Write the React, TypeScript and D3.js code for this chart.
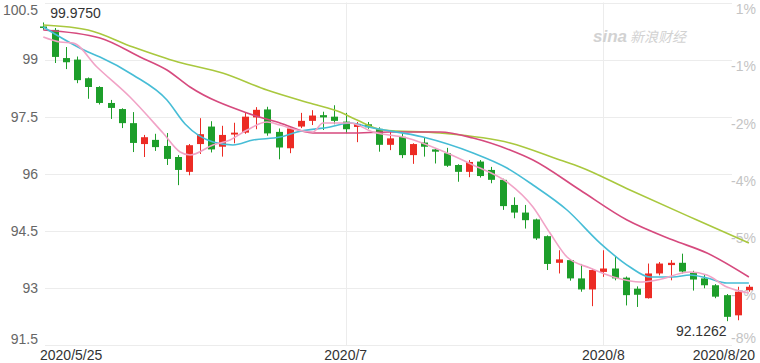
import React from "react";
import * as d3 from "d3";

// ---- Data ----
const opens = [99.87, 99.78, 99.04, 99.0, 98.51, 98.28, 97.86, 97.7, 97.33, 96.78, 96.89, 96.73, 96.44, 96.05, 96.78, 97.24, 96.71, 97.03, 97.08, 97.48, 97.69, 97.1, 96.67, 97.24, 97.39, 97.54, 97.5, 97.37, 97.23, 97.3, 97.18, 96.76, 96.97, 96.49, 96.82, 96.64, 96.54, 96.23, 96.05, 96.32, 96.1, 95.84, 95.18, 94.98, 94.8, 94.36, 93.66, 93.73, 93.25, 92.96, 93.42, 93.51, 93.27, 92.98, 92.73, 93.38, 93.6, 93.66, 93.4, 93.25, 93.07, 92.81, 92.28, 92.94];
const highs = [99.975, 99.83, 99.33, 99.08, 98.53, 98.3, 97.94, 97.72, 97.62, 97.02, 97.05, 97.07, 96.49, 96.78, 97.46, 97.38, 97.26, 97.34, 97.6, 97.75, 97.76, 97.19, 97.24, 97.6, 97.67, 97.63, 97.8, 97.6, 97.36, 97.36, 97.22, 97.1, 97.06, 96.8, 96.96, 96.67, 96.68, 96.25, 96.36, 96.36, 96.18, 95.87, 95.38, 95.18, 94.82, 94.38, 93.99, 93.76, 93.63, 93.5, 93.99, 93.82, 93.3, 93.04, 93.64, 93.68, 93.73, 93.9, 93.45, 93.34, 93.1, 92.84, 93.03, 93.08];
const lows = [99.78, 98.91, 98.75, 98.38, 97.97, 97.82, 97.44, 97.2, 96.57, 96.44, 96.6, 96.23, 95.7, 95.96, 96.52, 96.56, 96.45, 96.8, 97.05, 97.17, 97.0, 96.38, 96.54, 97.2, 97.28, 97.15, 97.3, 97.06, 96.83, 97.18, 96.58, 96.62, 96.41, 96.26, 96.45, 96.27, 96.18, 95.79, 95.91, 95.9, 95.75, 95.05, 94.83, 94.56, 94.26, 93.47, 93.38, 93.19, 92.9, 92.52, 93.29, 93.2, 92.54, 92.5, 92.72, 93.33, 93.2, 93.38, 92.93, 92.99, 92.73, 92.1262, 92.15, 92.9];
const closes = [99.86, 99.07, 98.93, 98.46, 98.28, 97.86, 97.73, 97.33, 96.81, 96.96, 96.7, 96.39, 96.1, 96.75, 97.04, 96.64, 97.02, 97.08, 97.5, 97.68, 97.06, 96.69, 97.19, 97.39, 97.53, 97.48, 97.39, 97.17, 97.31, 97.22, 96.76, 96.93, 96.49, 96.78, 96.71, 96.58, 96.21, 96.05, 96.31, 95.94, 95.84, 95.15, 94.98, 94.78, 94.3, 93.63, 93.75, 93.25, 92.96, 93.47, 93.51, 93.25, 92.81, 92.82, 93.38, 93.64, 93.66, 93.43, 93.22, 93.07, 92.77, 92.24, 92.9, 93.03];

// moving averages, sampled [candle index, value]
const ma5: [number, number][] = [[0, 99.593], [1.49, 99.462], [2.65, 99.436], [4.79, 98.805], [7.74, 98.016], [10.69, 97.07], [12.21, 96.571], [13.1, 96.492], [15.15, 96.755], [16.67, 96.886], [18.19, 97.149], [19.97, 97.359], [21.13, 97.281], [22.65, 97.149], [24.08, 97.097], [24.97, 97.333], [27.38, 97.333], [29.44, 97.097], [32.47, 96.939], [35.42, 96.624], [38.37, 96.23], [41.4, 95.783], [43.72, 95.126], [45.24, 94.442], [46.76, 93.812], [48.81, 93.523], [51.22, 93.26], [53.28, 93.155], [54.79, 93.207], [57.74, 93.418], [59.26, 93.339], [61.04, 93.024], [63, 92.866]];
const ma10: [number, number][] = [[0, 99.856], [4, 99.199], [5.06, 99.068], [8.01, 98.595], [11.04, 97.938], [12.66, 97.307], [15.15, 96.834], [16.93, 96.755], [18.72, 96.886], [21.13, 96.965], [22.65, 97.097], [25.6, 97.228], [27.38, 97.333], [29.44, 97.202], [33.9, 96.965], [38.37, 96.545], [41.4, 96.15], [43.72, 95.704], [46.76, 95.047], [49.71, 94.179], [52.38, 93.549], [54.17, 93.287], [56.22, 93.287], [57.74, 93.339], [59.26, 93.26], [61.04, 93.129], [63, 93.129]];
const ma20: [number, number][] = [[0, 99.777], [5.06, 99.567], [8.64, 99.068], [11.04, 98.726], [13.1, 98.279], [18.19, 97.596], [21.13, 97.333], [24.08, 97.07], [27.38, 97.07], [30.95, 97.097], [35.42, 97.097], [38.37, 96.939], [41.67, 96.624], [43.72, 96.361], [47.92, 95.572], [52.12, 94.784], [56.22, 94.258], [59.26, 93.916], [63, 93.286]];
const ma30: [number, number][] = [[0, 99.909], [4, 99.777], [8.01, 99.33], [12.02, 98.936], [16, 98.647], [19.97, 98.2], [24.08, 97.832], [26.49, 97.622], [28.01, 97.412], [30.33, 97.149], [35.42, 97.07], [41.67, 96.807], [46.13, 96.361], [47.92, 96.177], [52.38, 95.572], [58.36, 94.784], [63, 94.179]];

const priceTicks = [100.5, 99, 97.5, 96, 94.5, 93, 91.5];
const basePrice = 99.975;
const xTicks: [number, string][] = [[0, "2020/5/25"], [27, "2020/7"], [50, "2020/8"], [63, "2020/8/20"]];
const maxLabel = "99.9750";
const minLabel = "92.1262";

const W = 760;
const H = 363;
const FONT = "'Liberation Sans', Arial, sans-serif";
const RED = "#ec2b24";
const GREEN = "#1d9e2a";

export default function App() {
  const n = closes.length;
  const x = d3.scaleLinear().domain([0, n - 1]).range([43.3, 748.9]);
  const y = d3.scaleLinear().domain([91.5, 100.5]).range([345, 2.5]);
  const line = d3
    .line<[number, number]>()
    .x((d) => x(d[0]))
    .y((d) => y(d[1]))
    .curve(d3.curveMonotoneX);

  const maList: [[number, number][], string][] = [
    [ma30, "#a9c83e"],
    [ma20, "#d64a7e"],
    [ma10, "#47bdd6"],
    [ma5, "#f1a3c6"],
  ];

  const maxIdx = highs.indexOf(d3.max(highs) as number);
  const minIdx = lows.indexOf(d3.min(lows) as number);
  const bw = 7;

  return (
    <svg
      width={W}
      height={H}
      style={{ position: "absolute", left: 0, top: 0, background: "#fff" }}
      fontFamily={FONT}
    >
      {/* grid */}
      {priceTicks.map((p) => (
        <line key={"g" + p} x1={45} x2={732} y1={Math.round(y(p)) + 0.5} y2={Math.round(y(p)) + 0.5} stroke="#ececec" />
      ))}
      {xTicks.slice(1, 3).map(([i]) => (
        <line key={"v" + i} x1={Math.round(x(i)) + 0.5} x2={Math.round(x(i)) + 0.5} y1={2.5} y2={345} stroke="#ececec" />
      ))}

      {/* watermark */}
      <g fill="#d2d2d2">
        <text x={593} y={42} fontSize={17} fontStyle="italic" fontWeight="bold" fontFamily={FONT}>sina</text>
        <text x={630} y={42} fontSize={14} fontStyle="italic" fontFamily="'Noto Sans CJK SC', sans-serif">新浪财经</text>
      </g>

      {/* left axis labels */}
      {priceTicks.map((p, k) => {
        let yy = y(p);
        if (k === 0) yy += 7.5;
        if (k === priceTicks.length - 1) yy -= 6;
        return (
          <text key={"l" + p} x={38} y={yy} dy="0.35em" textAnchor="end" fontSize={14} fill="#666">
            {String(p)}
          </text>
        );
      })}
      {/* right axis labels */}
      {priceTicks.map((p, k) => {
        let yy = y(p) + 7;
        if (k === priceTicks.length - 1) yy = y(p) - 7;
        const pct = Math.round((p / basePrice - 1) * 100);
        return (
          <text key={"r" + p} x={756} y={yy} dy="0.35em" textAnchor="end" fontSize={14} fill="#c4c4c4">
            {pct + "%"}
          </text>
        );
      })}

      {/* candles */}
      {closes.map((c, i) => {
        const o = opens[i];
        const up = c >= o;
        const col = up ? RED : GREEN;
        const cx = Math.round(x(i));
        const top = y(Math.max(o, c));
        const bot = y(Math.min(o, c));
        const hgt = Math.max(1.5, bot - top);
        return (
          <g key={"c" + i}>
            <line x1={cx + 0.5} x2={cx + 0.5} y1={y(highs[i])} y2={y(lows[i])} stroke={col} strokeWidth={1} />
            <rect x={cx - (bw - 1) / 2} y={top} width={bw} height={hgt} fill={col} />
          </g>
        );
      })}

      {/* moving averages */}
      {maList.map(([d, col], k) => (
        <path key={"m" + k} d={line(d) || ""} fill="none" stroke={col} strokeWidth={1.6} />
      ))}

      {/* max / min labels */}
      <text x={x(maxIdx) + 7} y={13} dy="0.35em" fontSize={14} fill="#333">{maxLabel}</text>
      <text x={x(minIdx)} y={331} dy="0.35em" textAnchor="end" fontSize={14} fill="#333">{minLabel}</text>

      {/* x axis labels */}
      {xTicks.map(([i, lab], k) => (
        <text
          key={"x" + i}
          x={k === 0 ? 40 : k === xTicks.length - 1 ? 755 : x(i)}
          y={355}
          dy="0.35em"
          textAnchor={k === 0 ? "start" : k === xTicks.length - 1 ? "end" : "middle"}
          fontSize={14}
          fill="#333"
        >
          {lab}
        </text>
      ))}
    </svg>
  );
}
